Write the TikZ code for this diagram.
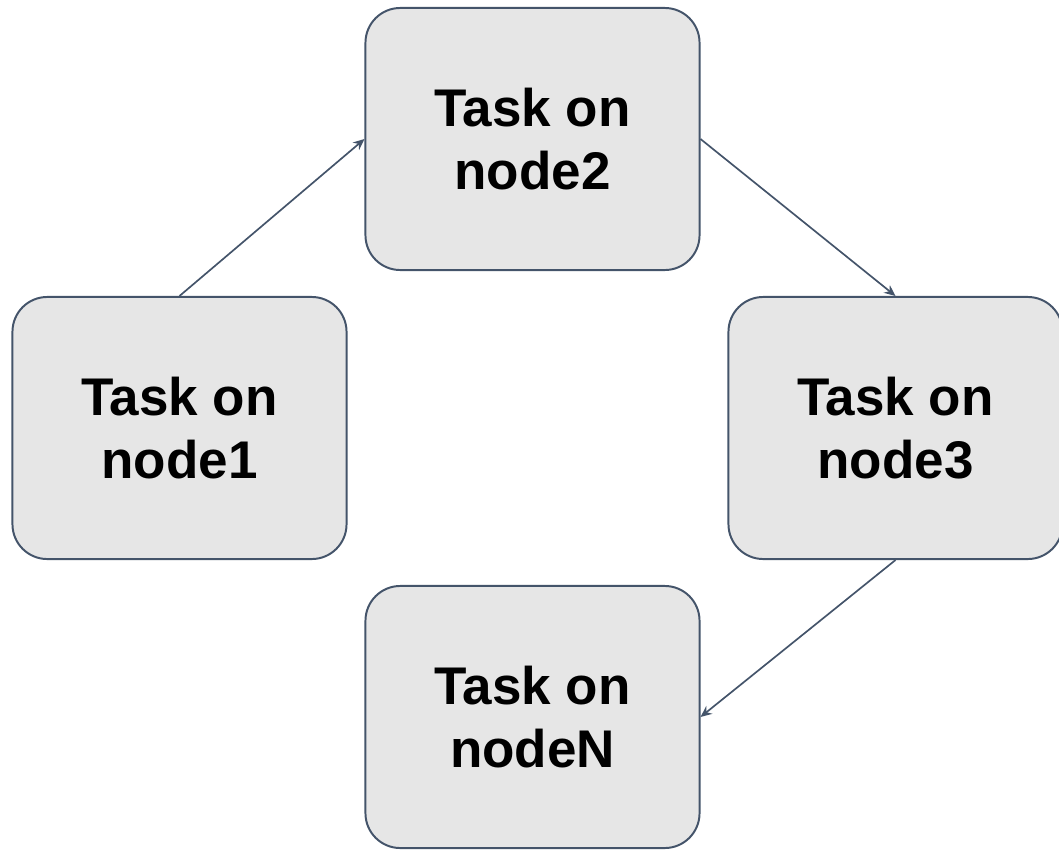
\documentclass[tikz,border=0pt]{standalone}
\usepackage{fontspec}
\setmainfont{Liberation Sans}
\usepackage{xcolor}
\usetikzlibrary{arrows.meta,positioning}
\definecolor{edge}{RGB}{68,84,106}
\definecolor{boxfill}{RGB}{230,230,230}

\begin{document}
\begin{tikzpicture}[
  x=0.025cm, y=-0.025cm,
  task/.style={draw=edge, line width=1.4pt, fill=boxfill, rounded corners=0.87cm,
               align=center, minimum width=8.35cm, minimum height=6.55cm,
               font=\fontsize{37.7}{45.3}\selectfont\bfseries},
  arrow/.style={-{Stealth[length=8pt,width=7pt]}, draw=edge, line width=1.2pt}
]
  \useasboundingbox (0,0) rectangle (1059,849);
  \node[task] (n2) at (532.5,139) {Task on\\node2};
  \node[task] (n1) at (179.5,428) {Task on\\node1};
  \node[task] (n3) at (895.5,428) {Task on\\node3};
  \node[task] (nN) at (532.5,717) {Task on\\nodeN};
  \draw[arrow] (n1.north) -- (n2.west);
  \draw[arrow] (n2.east) -- (n3.north);
  \draw[arrow] (n3.south) -- (nN.east);
\end{tikzpicture}
\end{document}
